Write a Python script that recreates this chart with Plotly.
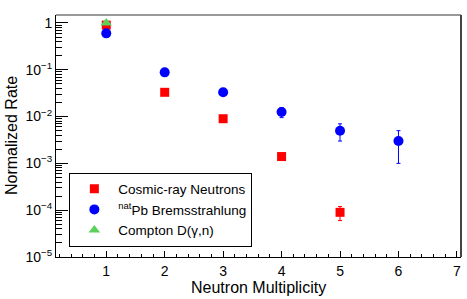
import plotly.graph_objects as go

# ---- data ----
multiplicity_cosmic = [1, 2, 3, 4, 5]
rate_cosmic = [0.9, 0.033, 0.009, 0.0014, 9e-5]
err_cosmic = [0, 0, 0, 0, 3e-5]

multiplicity_pb = [1, 2, 3, 4, 5, 6]
rate_pb = [0.6, 0.088, 0.033, 0.0125, 0.005, 0.003]
err_pb = [0, 0, 0, 0.003, 0.002, 0.002]

multiplicity_compton = [1]
rate_compton = [1.0]

series_names = ["Cosmic-ray Neutrons", "<sup>nat</sup>Pb Bremsstrahlung", "Compton D(\u03b3,n)"]
x_ticks = [1, 2, 3, 4, 5, 6, 7]
y_tickvals = [1, 0.1, 0.01, 0.001, 0.0001, 0.00001]
y_ticktext = ["1", "10<sup>\u22121</sup>", "10<sup>\u22122</sup>", "10<sup>\u22123</sup>",
              "10<sup>\u22124</sup>", "10<sup>\u22125</sup>"]

FONT = "Liberation Sans, Arial, Helvetica, sans-serif"

fig = go.Figure()
fig.add_trace(go.Scatter(
    x=multiplicity_cosmic, y=rate_cosmic, mode="markers", name=series_names[0],
    marker=dict(symbol="square", size=9, color="#ff0000", line=dict(width=0)),
    error_y=dict(type="data", array=err_cosmic, color="#ff0000", thickness=1, width=2),
))
fig.add_trace(go.Scatter(
    x=multiplicity_pb, y=rate_pb, mode="markers", name=series_names[1],
    marker=dict(symbol="circle", size=10, color="#0000ff", line=dict(width=0)),
    error_y=dict(type="data", array=err_pb, color="#0000ff", thickness=1, width=2),
))
fig.add_trace(go.Scatter(
    x=multiplicity_compton, y=rate_compton, mode="markers", name=series_names[2],
    marker=dict(symbol="triangle-up", size=10, color="#5bd15b", line=dict(width=0)),
))

fig.update_layout(
    width=467, height=299,
    margin=dict(l=56, r=6, t=15, b=42),
    paper_bgcolor="white", plot_bgcolor="white",
    font=dict(family=FONT, size=14, color="black"),
    showlegend=True,
    legend=dict(
        x=0.033, y=0.196, xanchor="left", yanchor="middle",
        bgcolor="white", bordercolor="black", borderwidth=1,
        font=dict(family=FONT, size=13.5, color="black"),
        itemwidth=38, tracegroupgap=0,
    ),
    xaxis=dict(
        range=[0.14, 7.07], tickvals=x_ticks, ticks="inside", ticklen=6, tickcolor="black",
        showgrid=False, zeroline=False, showline=True, linecolor="black", linewidth=1,
        minor=dict(ticks="inside", ticklen=3, tickcolor="black", dtick=0.2, tick0=0, showgrid=False),
        tickfont=dict(size=14), ticklabelstandoff=1,
    ),
    yaxis=dict(
        type="log", range=[-5, 0.17], tickvals=y_tickvals, ticktext=y_ticktext,
        ticks="inside", ticklen=12, tickcolor="black",
        showgrid=False, zeroline=False, showline=True, linecolor="black", linewidth=1,
        minor=dict(ticks="inside", ticklen=6, tickcolor="black", dtick="D1", showgrid=False),
        tickfont=dict(size=14),
    ),
    annotations=[
        dict(text="Neutron Multiplicity", xref="paper", yref="paper", x=0.5, y=0,
             xanchor="center", yanchor="middle", yshift=-30, showarrow=False,
             font=dict(size=16)),
        dict(text="Normalized Rate", xref="paper", yref="paper", x=0, y=0.5,
             xanchor="center", yanchor="middle", xshift=-45, textangle=-90, showarrow=False,
             font=dict(size=16)),
    ],
    shapes=[
        dict(type="line", xref="paper", yref="paper", x0=0, x1=1, y0=1, y1=1,
             line=dict(color="#999999", width=2)),
        dict(type="line", xref="paper", yref="paper", x0=1, x1=1, y0=0, y1=1,
             line=dict(color="#444444", width=2)),
    ],
)

fig.write_html("out.html", config={"displayModeBar": False},
               post_script="document.body.style.margin='0';")
